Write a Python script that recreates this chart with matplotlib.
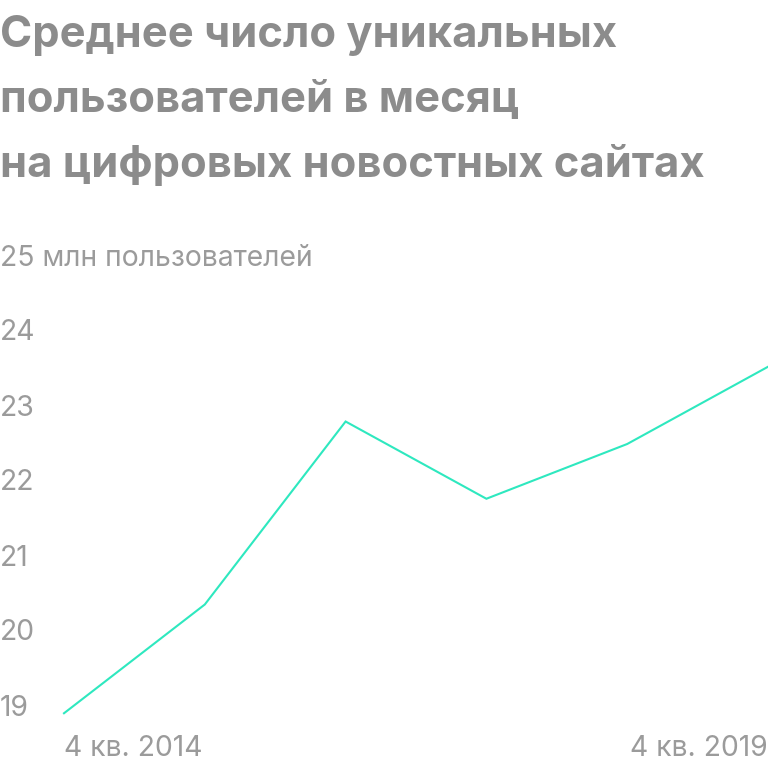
import matplotlib.pyplot as plt
import matplotlib.transforms as mtransforms

# данные
quarters = ['4 кв. 2014', '4 кв. 2015', '4 кв. 2016', '4 кв. 2017', '4 кв. 2018', '4 кв. 2019']
users = [18.93, 20.38, 22.82, 21.79, 22.52, 23.55]
yticks = [19, 20, 21, 22, 23, 24, 25]
title_lines = ['Среднее число уникальных', 'пользователей в месяц', 'на цифровых новостных сайтах']

plt.rcParams['font.family'] = ['Inter', 'DejaVu Sans']

fig = plt.figure(figsize=(7.68, 7.68), dpi=100)
# оси: x от 64 px до 768 px, y от 720 px до 258 px (сверху)
ax = fig.add_axes([64 / 768, 48 / 768, 704 / 768, 462 / 768])
x = list(range(len(users)))
ax.plot(x, users, color='#2ee8bf', lw=1.5, solid_joinstyle='miter', clip_on=False)
ax.set_xlim(0, len(users) - 1)
ax.set_ylim(18.84, 25.0)
ax.axis('off')

label_color = '#9b9b9b'
trans = mtransforms.blended_transform_factory(fig.transFigure, ax.transData)
for v in yticks:
    s = str(v) + (' млн пользователей' if v == 25 else '')
    ax.text(0.0, v, s, transform=trans, ha='left', va='center',
            fontsize=20.4, color=label_color)

# подписи оси x
ax.text(0, 18.84 - 28 / 75, quarters[0], ha='left', va='center',
        fontsize=20.4, color=label_color)
ax.text(len(users) - 1, 18.84 - 28 / 75, quarters[-1], ha='right', va='center',
        fontsize=20.4, color=label_color)

# заголовок
for i, line in enumerate(title_lines):
    fig.text(0.0, 1 - (47 + 65 * i) / 768, line, ha='left', va='baseline',
             fontsize=31.3, fontweight='bold', color='#8c8c8c')

fig.savefig('out.png', dpi=100)
